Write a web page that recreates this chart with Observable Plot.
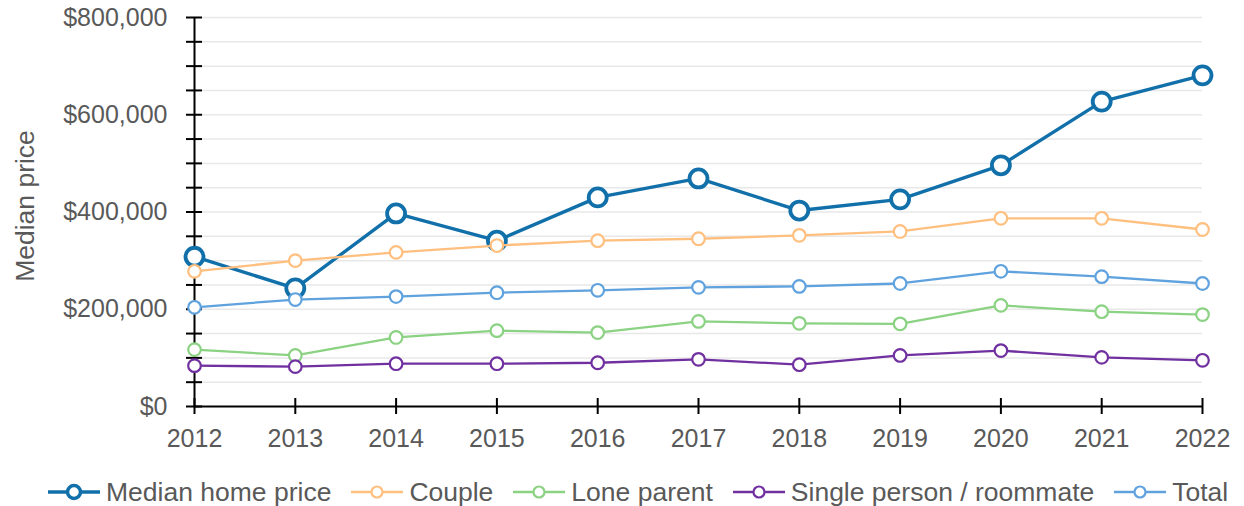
<!DOCTYPE html>
<html><head><meta charset="utf-8">
<script src="https://cdn.jsdelivr.net/npm/d3@7"></script>
<script src="https://cdn.jsdelivr.net/npm/@observablehq/plot@0.6"></script>
<style>
html,body{margin:0;padding:0;background:#fff;}
body{width:1244px;height:506px;overflow:hidden;font-family:"Liberation Sans",Arial,sans-serif;}
#legend{display:flex;align-items:center;gap:20px;padding-left:48px;margin-top:17px;height:30px;font-size:26.5px;color:#595959;white-space:nowrap;}
.item{display:flex;align-items:center;gap:6px;}
.item svg{display:block;}
</style></head><body>
<div id="chart"></div>
<div id="legend"></div>
<script>
const years = [2012, 2013, 2014, 2015, 2016, 2017, 2018, 2019, 2020, 2021, 2022];
const medianHomePrice = [308000, 243000, 397000, 341000, 430000, 469000, 403000, 426000, 496000, 627000, 681000];
const couple = [278000, 300000, 317000, 331000, 341000, 345000, 352000, 360000, 387000, 387000, 364000];
const loneParent = [117000, 105000, 142000, 156000, 152000, 175000, 171000, 170000, 208000, 195000, 189000];
const singlePerson = [84000, 82000, 88000, 88000, 90000, 97000, 86000, 105000, 115000, 101000, 95000];
const total = [204000, 220000, 226000, 234000, 239000, 245000, 247000, 253000, 278000, 267000, 253000];
const seriesNames = ["Median home price", "Couple", "Lone parent", "Single person / roommate", "Total"];
const seriesValues = [medianHomePrice, couple, loneParent, singlePerson, total];
const seriesColors = ["#1170aa", "#ffbf7f", "#8bd283", "#7030a0", "#5fa2dd"];
const yLabelTicks = [0, 200000, 400000, 600000, 800000];
const yMinorTicks = d3.range(0, 800001, 50000);
const yAxisTitle = "Median price";

const rows = [];
seriesNames.forEach((name, i) => years.forEach((yr, j) => rows.push({series: name, year: yr, value: seriesValues[i][j]})));

const seriesMarks = [];
seriesNames.forEach((name, i) => {
  const data = rows.filter(d => d.series === name);
  const main = i === 0;
  seriesMarks.push(Plot.line(data, {x: "year", y: "value", stroke: seriesColors[i], strokeWidth: main ? 3.4 : 2.3}));
  seriesMarks.push(Plot.dot(data, {x: "year", y: "value", r: main ? 9 : 6.3, fill: "white", stroke: seriesColors[i], strokeWidth: main ? 3.8 : 2.2}));
});

const chart = Plot.plot({
  width: 1244, height: 460,
  marginLeft: 194, marginRight: 42, marginTop: 17, marginBottom: 54,
  style: {fontFamily: "'Liberation Sans', Arial, sans-serif", fontSize: "25px", background: "#fff", overflow: "visible"},
  x: {domain: [2012, 2022]},
  y: {domain: [0, 800000]},
  marks: [
    Plot.gridY(yMinorTicks.filter(d => d > 0), {stroke: "#e8e8e8", strokeOpacity: 1, strokeWidth: 1.5}),
    Plot.ruleX([2012], {stroke: "#000", strokeWidth: 2}),
    Plot.ruleY([0], {stroke: "#000", strokeWidth: 2}),
    Plot.axisY(yMinorTicks, {tickSize: 16, dx: 8, fill: "none", stroke: "#000", strokeWidth: 2, label: null}),
    Plot.axisY(yLabelTicks, {tickSize: 0, tickPadding: 27, tickFormat: d => "$" + d3.format(",")(d), fill: "#595959", label: null}),
    Plot.axisX(years, {tickSize: 16, dy: -8, fill: "none", stroke: "#000", strokeWidth: 2, label: null}),
    Plot.axisX(years, {tickSize: 0, tickPadding: 23, tickFormat: "d", fill: "#595959", label: null}),
    ...seriesMarks,
    Plot.text([yAxisTitle], {frameAnchor: "left", dx: -169, dy: -6, rotate: -90, fill: "#595959", textAnchor: "middle", lineAnchor: "middle", fontSize: 26.5})
  ]
});
document.getElementById("chart").appendChild(chart);

const legend = document.getElementById("legend");
seriesNames.forEach((name, i) => {
  const main = i === 0;
  const item = document.createElement("div");
  item.className = "item";
  const ns = "http://www.w3.org/2000/svg";
  const svg = document.createElementNS(ns, "svg");
  svg.setAttribute("width", 52); svg.setAttribute("height", 24);
  const line = document.createElementNS(ns, "line");
  line.setAttribute("x1", 0); line.setAttribute("x2", 52); line.setAttribute("y1", 12); line.setAttribute("y2", 12);
  line.setAttribute("stroke", seriesColors[i]); line.setAttribute("stroke-width", main ? 3.5 : 2.5);
  const c = document.createElementNS(ns, "circle");
  c.setAttribute("cx", 26); c.setAttribute("cy", 12); c.setAttribute("r", main ? 6.5 : 5.5);
  c.setAttribute("fill", "#fff"); c.setAttribute("stroke", seriesColors[i]); c.setAttribute("stroke-width", main ? 3.5 : 2.2);
  svg.appendChild(line); svg.appendChild(c);
  const span = document.createElement("span");
  span.textContent = name;
  item.appendChild(svg); item.appendChild(span);
  legend.appendChild(item);
});
</script>
</body></html>
